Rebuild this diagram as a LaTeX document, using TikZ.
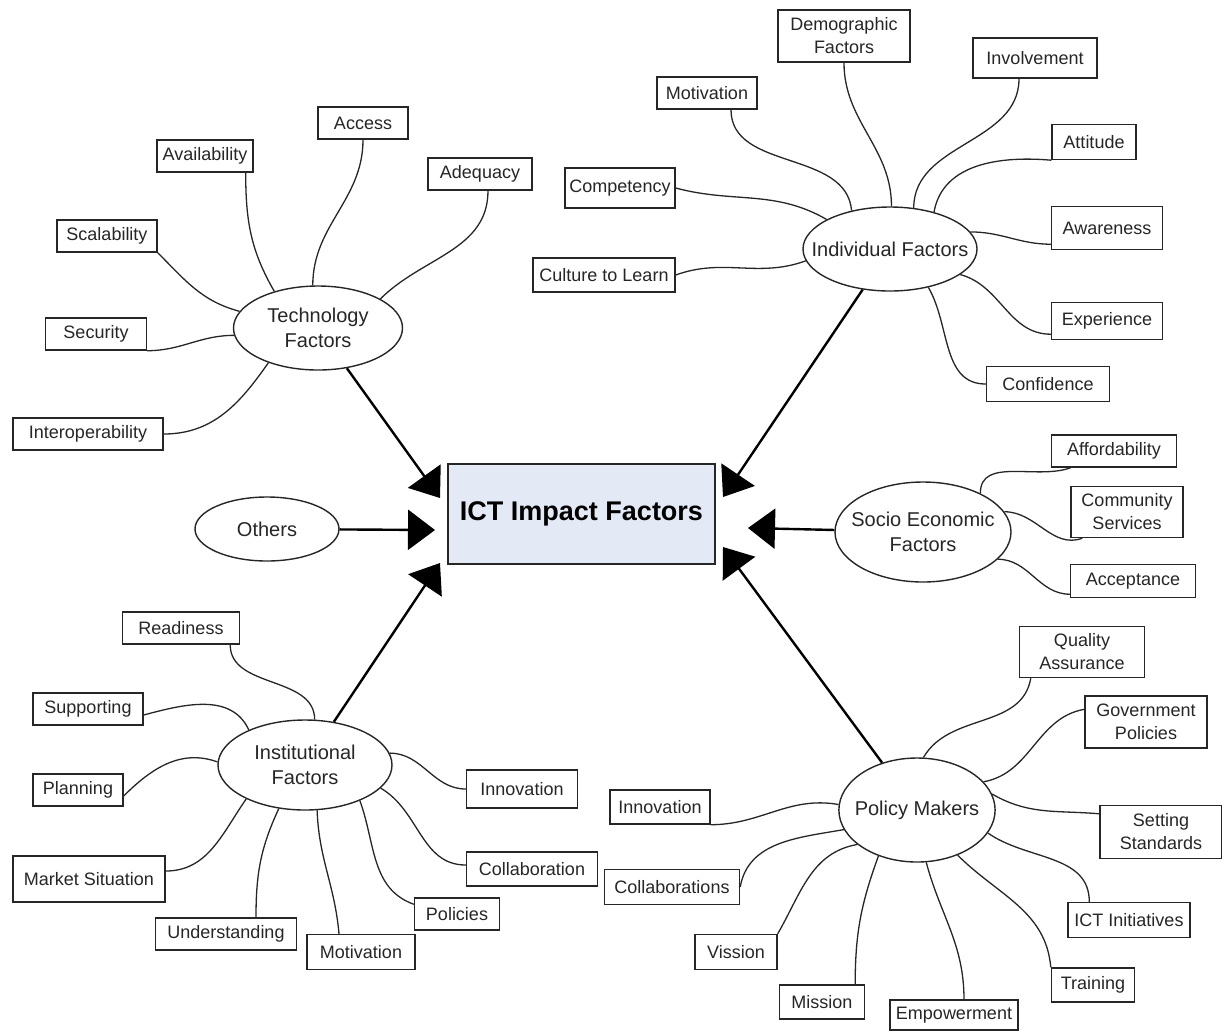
\documentclass[tikz,border=0pt]{standalone}
\usepackage{fontspec}
\setmainfont{Liberation Sans}
\usetikzlibrary{shapes.geometric,arrows.meta}
\definecolor{ictblue}{HTML}{E3EAF5}

\begin{document}
\begin{tikzpicture}[x=0.5pt,y=0.5pt,
  factor/.style={draw=black!85,line width=0.7pt,fill=white,inner sep=1pt,
    minimum height=16pt,align=center,text=black!85,
    font=\fontsize{9}{11.5}\selectfont},
  group/.style={draw=black!85,line width=0.7pt,ellipse,inner sep=0pt,
    align=center,text=black!85,font=\fontsize{10}{12.5}\selectfont},
  wire/.style={draw=black!85,line width=0.65pt},
  feed/.style={draw=black,line width=1.2pt,
    -{Triangle[length=13.5pt,width=20pt]}}]
\useasboundingbox (0,0) rectangle (1222,-1030);
% the centre box, and the six groups that feed it
\node[draw=black!85,line width=0.7pt,fill=ictblue,minimum width=133.5pt,
  minimum height=50pt,font=\fontsize{13.5}{16}\selectfont\bfseries]
  (ict) at (581.5,-514) {ICT Impact Factors};
\node[group,minimum width=84.5pt,minimum height=42pt] (tech) at (318,-328) {Technology\\Factors};
\node[group,inner xsep=-8.5pt,minimum width=87pt,minimum height=42pt] (ind) at (890,-249) {Individual Factors};
\node[group,inner xsep=-4.8pt,minimum width=88pt,minimum height=50pt] (socio) at (923,-532) {Socio Economic\\Factors};
\node[group,minimum width=72pt,minimum height=32pt] (others) at (267,-529) {Others};
\node[group,minimum width=87pt,minimum height=45pt] (inst) at (305,-765) {Institutional\\Factors};
\node[group,inner xsep=-3.5pt,minimum width=78pt,minimum height=52pt] (pol) at (917,-810) {Policy Makers};
% arrow tips next to the centre box
\coordinate (tipTech) at (440,-498);
\coordinate (tipOth) at (435,-530);
\coordinate (tipInst) at (440,-563);
\coordinate (tipInd) at (723,-497);
\coordinate (tipSoc) at (748,-528);
\coordinate (tipPol) at (723,-547);
\draw[feed] (tech) -- (tipTech);
\draw[feed] (others) -- (tipOth);
\draw[feed] (inst) -- (tipInst);
\draw[feed] (ind) -- (tipInd);
\draw[feed] (socio) -- (tipSoc);
\draw[feed] (pol) -- (tipPol);

% technology factors
\node[factor,minimum width=45pt] (access) at (363,-123) {Access};
\node[factor,minimum width=48pt] (avail) at (205,-156) {Availability};
\node[factor,minimum width=52pt] (adeq) at (480,-174) {Adequacy};
\node[factor,minimum width=50pt] (scal) at (107,-236) {Scalability};
\node[factor,minimum width=50.5pt] (secur) at (96,-334) {Security};
\node[factor,minimum width=75pt] (interop) at (88,-434) {Interoperability};
\draw[wire] (access.south) to[out=-90,in=90] (tech.97);
\draw[wire] ([xshift=-4pt]avail.south east) to[out=-90,in=120] (tech.140);
\draw[wire] ([xshift=4pt]adeq.south) to[out=-90,in=45] (tech.25);
\draw[wire] (scal.south east) to[out=-45,in=165] (tech.168);
\draw[wire] (secur.south east) to[out=0,in=180] (tech.185);
\draw[wire] (interop.east) to[out=0,in=235] (tech.215);

% individual factors
\node[factor,minimum width=66pt,minimum height=26pt] (demog) at (844,-36) {Demographic\\Factors};
\node[factor,minimum width=50pt] (motivA) at (707,-93) {Motivation};
\node[factor,minimum width=62pt,minimum height=20pt] (involv) at (1035,-58) {Involvement};
\node[factor,minimum width=42pt,minimum height=17.5pt] (attit) at (1094,-142) {Attitude};
\node[factor,minimum width=55pt,minimum height=20pt] (compet) at (620,-188) {Competency};
\node[factor,minimum width=55.5pt,minimum height=21.5pt] (aware) at (1107,-228) {Awareness};
\node[factor,minimum width=71pt,minimum height=17pt] (culture) at (604,-275) {Culture to Learn};
\node[factor,minimum width=55.5pt,minimum height=18.5pt] (exper) at (1107,-321) {Experience};
\node[factor,minimum width=61.5pt,minimum height=17.5pt] (confid) at (1048,-384) {Confidence};
\draw[wire] (demog.south) to[out=-90,in=90] (ind.88);
\draw[wire] ([xshift=12pt]motivA.south) to[out=-90,in=95] (ind.135);
\draw[wire] ([xshift=-8pt]involv.south) to[out=-90,in=90] (ind.60);
\draw[wire] (attit.south west) to[out=175,in=80] (ind.40);
\draw[wire] (compet.east) to[out=-15,in=150] (ind.155);
\draw[wire] ([yshift=3pt]aware.south west) to[out=180,in=0] (ind.12);
\draw[wire] (culture.east) to[out=20,in=200] (ind.188);
\draw[wire] ([yshift=3pt]exper.south west) to[out=180,in=-15] (ind.-20);
\draw[wire] (confid.west) to[out=180,in=-60] (ind.-45);

% socio economic factors
\node[factor,minimum width=62.5pt] (afford) at (1114,-451) {Affordability};
\node[factor,minimum width=56pt,minimum height=25.5pt] (commun) at (1127,-512) {Community\\Services};
\node[factor,minimum width=62.5pt,minimum height=16.5pt] (accept) at (1133,-581) {Acceptance};
\draw[wire] ([xshift=10pt]afford.south west) to[out=200,in=90] (socio.34);
\draw[wire] ([xshift=6pt]commun.south west) to[out=200,in=0] (socio.14);
\draw[wire] ([yshift=2pt]accept.south west) to[out=180,in=0] (socio.-20);

% institutional factors
\node[factor,minimum width=58.5pt] (readi) at (181,-628) {Readiness};
\node[factor,minimum width=55pt] (suppo) at (88,-709) {Supporting};
\node[factor,minimum width=45pt] (plann) at (78,-790) {Planning};
\node[factor,minimum width=76pt,minimum height=23pt] (market) at (89,-879) {Market Situation};
\node[factor,minimum width=70.5pt] (under) at (226,-934) {Understanding};
\node[factor,minimum width=54pt,minimum height=17.5pt] (motivB) at (361,-952) {Motivation};
\node[factor,minimum width=42.5pt] (polic) at (457,-914) {Policies};
\node[factor,minimum width=65.5pt,minimum height=17pt] (collab) at (532,-869) {Collaboration};
\node[factor,minimum width=55.5pt,minimum height=19pt] (innovA) at (522,-789) {Innovation};
\draw[wire] ([xshift=-5pt]readi.south east) to[out=-90,in=90] (inst.78);
\draw[wire] ([yshift=-3pt]suppo.east) to[out=15,in=115] (inst.148);
\draw[wire] ([yshift=-3pt]plann.east) to[out=45,in=160] (inst.178);
\draw[wire] ([yshift=4pt]market.east) to[out=0,in=235] (inst.210);
\draw[wire] ([xshift=15pt]under.north) to[out=90,in=-115] (inst.239);
\draw[wire] ([xshift=-11pt]motivB.north) to[out=95,in=-88] (inst.285);
\draw[wire] ([yshift=-3.5pt]polic.north west) to[out=160,in=-70] (inst.-33);
\draw[wire] ([yshift=2pt]collab.west) to[out=180,in=-30] (inst.-17);
\draw[wire] (innovA.west) to[out=180,in=0] (inst.8);

% policy makers
\node[factor,minimum width=62.5pt,minimum height=25.5pt] (quality) at (1082,-652) {Quality\\Assurance};
\node[factor,minimum width=61pt,minimum height=26pt] (govern) at (1146,-722) {Government\\Policies};
\node[factor,minimum width=61pt,minimum height=26.5pt] (setting) at (1161,-832) {Setting\\Standards};
\node[factor,minimum width=61pt,minimum height=17.5pt] (ictini) at (1129,-920) {ICT Initiatives};
\node[factor,minimum width=41.5pt,minimum height=17pt] (train) at (1093,-985) {Training};
\node[factor,minimum width=64pt,minimum height=15pt] (empow) at (954,-1015) {Empowerment};
\node[factor,minimum width=42.5pt,minimum height=17pt] (mission) at (822,-1002) {Mission};
\node[factor,minimum width=41pt,minimum height=17.5pt] (vission) at (736,-952) {Vission};
\node[factor,minimum width=67.5pt,minimum height=17.5pt] (collabs) at (672,-887) {Collaborations};
\node[factor,minimum width=50pt,minimum height=17pt] (innovB) at (660,-807) {Innovation};
\draw[wire] ([xshift=6pt]quality.south west) to[out=-100,in=60] (pol.83);
\draw[wire] ([yshift=-7pt]govern.north west) to[out=190,in=10] (pol.23);
\draw[wire] ([yshift=-4.5pt]setting.north west) to[out=175,in=-30] (pol.12);
\draw[wire] ([xshift=11pt]ictini.north west) to[out=90,in=-35] (pol.-18);
\draw[wire] (train.north west) to[out=95,in=-45] (pol.-48);
\draw[wire] ([xshift=5pt]empow.north) to[out=90,in=-75] (pol.-80);
\draw[wire] ([xshift=-5pt]mission.north east) to[out=90,in=-110] (pol.230);
\draw[wire] (vission.north east) to[out=60,in=190] (pol.210);
\draw[wire] (collabs.east) to[out=80,in=190] (pol.195);
\draw[wire] (innovB.south east) to[out=0,in=170] (pol.176);
\end{tikzpicture}
\end{document}
